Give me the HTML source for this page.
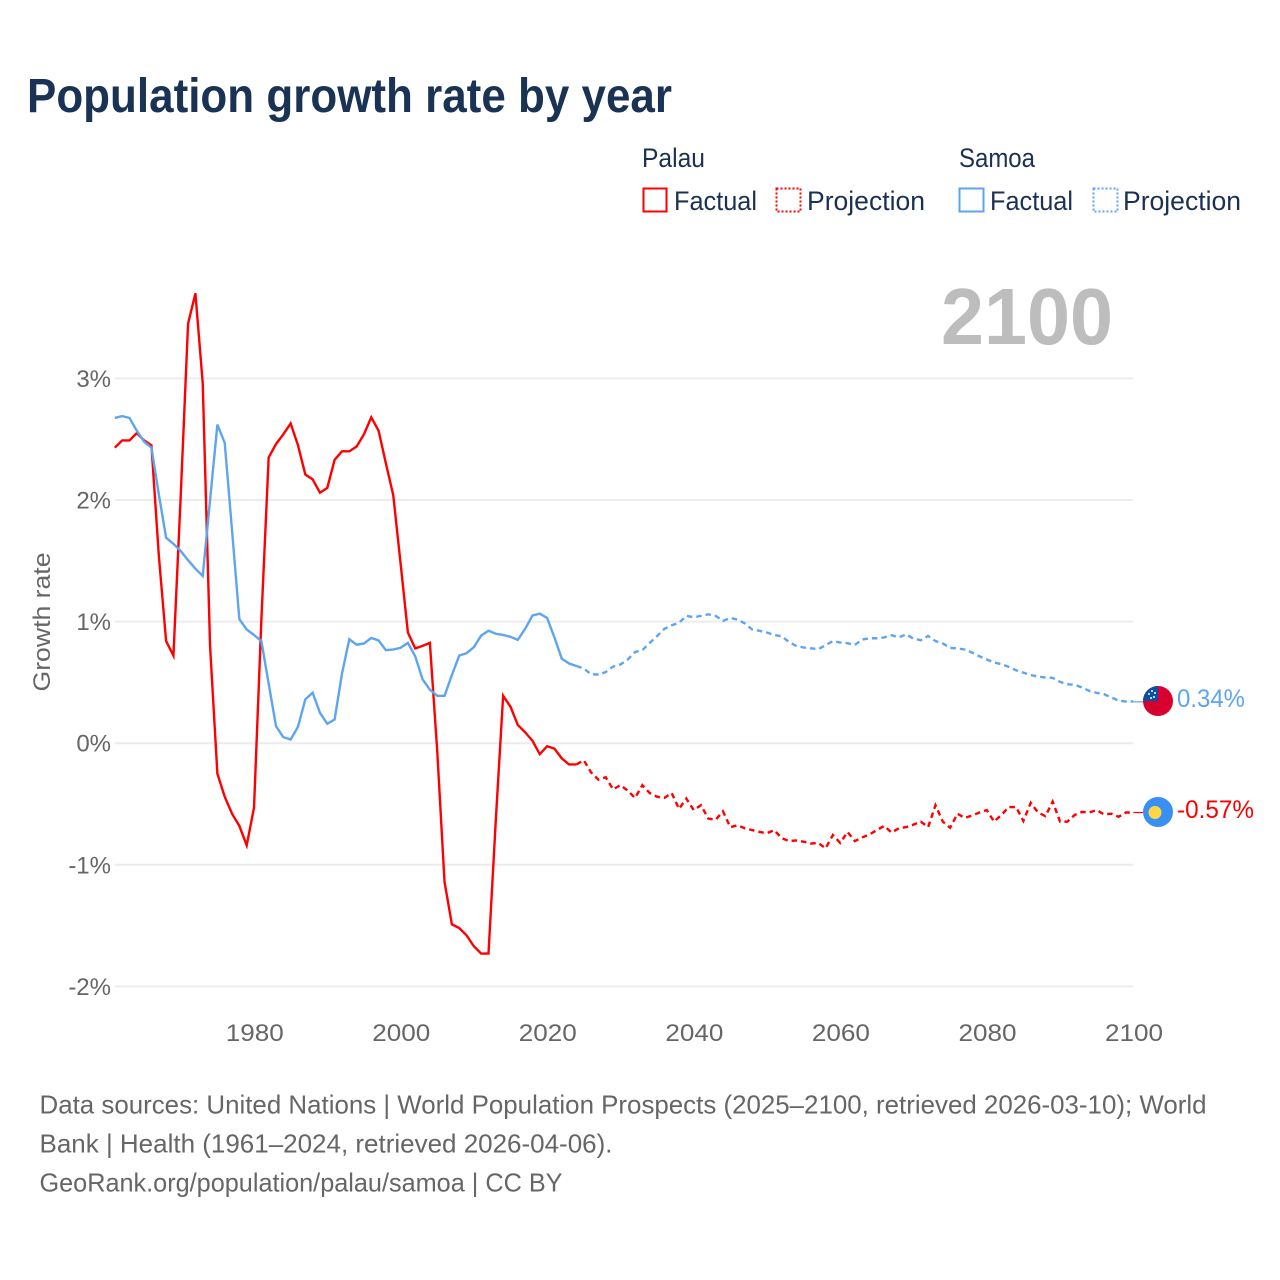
<!DOCTYPE html>
<html lang="en">
<head>
<meta charset="utf-8">
<title>Population growth rate by year</title>
<style>
html,body{margin:0;padding:0;background:#fff;width:1280px;height:1280px;overflow:hidden}
svg{display:block}
text{font-family:"Liberation Sans",sans-serif}
.leg{font-size:27px;fill:#1b3152}
.tick{font-size:24px;fill:#666}
.foot{font-size:26px;fill:#666}
</style>
</head>
<body>
<svg id="chart" xmlns="http://www.w3.org/2000/svg" width="1280" height="1280" viewBox="0 0 1280 1280">
  <text x="27" y="112" font-size="48" font-weight="700" fill="#1a3253" textLength="645" lengthAdjust="spacingAndGlyphs">Population growth rate by year</text>

  <g>
    <text class="leg" x="642" y="167" textLength="63" lengthAdjust="spacingAndGlyphs">Palau</text>
    <rect x="643.5" y="188.5" width="23" height="23" fill="none" stroke="#ff0000" stroke-width="2"/>
    <text class="leg" x="674" y="210" textLength="83" lengthAdjust="spacingAndGlyphs">Factual</text>
    <rect x="776.5" y="188.5" width="24" height="23" fill="none" stroke="#ff0000" stroke-width="2" stroke-dasharray="2 2"/>
    <text class="leg" x="807" y="210" textLength="118" lengthAdjust="spacingAndGlyphs">Projection</text>
    <text class="leg" x="959" y="167" textLength="76" lengthAdjust="spacingAndGlyphs">Samoa</text>
    <rect x="959.5" y="188.5" width="24" height="23" fill="none" stroke="#5ea5ef" stroke-width="2"/>
    <text class="leg" x="990" y="210" textLength="83" lengthAdjust="spacingAndGlyphs">Factual</text>
    <rect x="1093.5" y="188.5" width="24" height="23" fill="none" stroke="#5ea5ef" stroke-width="2" stroke-dasharray="2 2"/>
    <text class="leg" x="1123" y="210" textLength="118" lengthAdjust="spacingAndGlyphs">Projection</text>
  </g>

  <text x="941" y="344" font-size="80" font-weight="700" fill="#bdbdbd" textLength="172" lengthAdjust="spacingAndGlyphs">2100</text>

  <g id="grid"></g>
  <g id="yticks"></g>
  <g id="xticks"></g>
  <text class="tick" transform="translate(50 622) rotate(-90)" text-anchor="middle" textLength="139" lengthAdjust="spacingAndGlyphs">Growth rate</text>
  <g id="series"></g>

  <defs>
    <clipPath id="flag-clip-samoa"><circle cx="1158" cy="701" r="15"/></clipPath>
    <clipPath id="flag-clip-palau"><circle cx="1158" cy="812" r="15"/></clipPath>
  </defs>
  <g clip-path="url(#flag-clip-samoa)">
    <rect x="1143" y="686" width="30" height="30" fill="#d7002e"/>
    <rect x="1143" y="686" width="15" height="15" fill="#0b50a5"/>
    <circle cx="1152" cy="691" r="1" fill="#fff"/>
    <circle cx="1155" cy="693" r="1" fill="#fff"/>
    <circle cx="1149" cy="694" r="1" fill="#fff"/>
    <circle cx="1154" cy="697" r="1" fill="#fff"/>
    <circle cx="1151" cy="698" r="1" fill="#fff"/>
  </g>
  <g clip-path="url(#flag-clip-palau)">
    <rect x="1143" y="797" width="30" height="30" fill="#3a8ff2"/>
    <circle cx="1155" cy="812.5" r="6.5" fill="#ffd644"/>
  </g>
  <text x="1177" y="707" font-size="25" fill="#5ea5ef" textLength="68" lengthAdjust="spacingAndGlyphs">0.34%</text>
  <text x="1177" y="818" font-size="25" fill="#ff0000" textLength="77" lengthAdjust="spacingAndGlyphs">-0.57%</text>

  <g>
    <text class="foot" x="39.5" y="1113.5" textLength="1167" lengthAdjust="spacingAndGlyphs">Data sources: United Nations | World Population Prospects (2025–2100, retrieved 2026-03-10); World</text>
    <text class="foot" x="39.5" y="1152.5" textLength="573" lengthAdjust="spacingAndGlyphs">Bank | Health (1961–2024, retrieved 2026-04-06).</text>
    <text class="foot" x="39.5" y="1191.5" textLength="523" lengthAdjust="spacingAndGlyphs">GeoRank.org/population/palau/samoa | CC BY</text>
  </g>
</svg>
<script>
const firstYear = 1961;
const lastFactualYear = 2024;
const lastYear = 2100;
const yTickValues = [3, 2, 1, 0, -1, -2];
const xTickValues = [1980, 2000, 2020, 2040, 2060, 2080, 2100];
const palauFactual = [2.43,2.49,2.49,2.55,2.49,2.45,1.55,0.84,0.72,2.04,3.45,3.70,2.96,0.80,-0.25,-0.44,-0.58,-0.68,-0.84,-0.53,1.01,2.35,2.46,2.54,2.63,2.45,2.21,2.17,2.06,2.10,2.33,2.40,2.40,2.44,2.54,2.68,2.57,2.30,2.04,1.48,0.91,0.78,0.80,0.825,-0.06,-1.14,-1.49,-1.52,-1.58,-1.67,-1.73,-1.73,-0.63,0.39,0.30,0.15,0.09,0.02,-0.09,-0.025,-0.045,-0.125,-0.175,-0.175];
const palauProjection = [-0.175,-0.14,-0.24,-0.30,-0.28,-0.38,-0.345,-0.39,-0.45,-0.345,-0.41,-0.44,-0.45,-0.41,-0.54,-0.455,-0.55,-0.51,-0.62,-0.63,-0.56,-0.69,-0.675,-0.70,-0.715,-0.73,-0.74,-0.715,-0.78,-0.805,-0.80,-0.81,-0.825,-0.82,-0.865,-0.755,-0.82,-0.73,-0.805,-0.775,-0.75,-0.715,-0.68,-0.735,-0.70,-0.69,-0.67,-0.645,-0.69,-0.51,-0.645,-0.695,-0.58,-0.615,-0.595,-0.57,-0.55,-0.645,-0.59,-0.525,-0.525,-0.64,-0.49,-0.57,-0.60,-0.48,-0.645,-0.645,-0.59,-0.565,-0.57,-0.55,-0.585,-0.58,-0.605,-0.57,-0.57];
const samoaFactual = [2.675,2.69,2.675,2.57,2.48,2.43,2.05,1.69,1.64,1.58,1.505,1.435,1.375,2.0,2.62,2.47,1.75,1.02,0.935,0.89,0.84,0.49,0.14,0.05,0.03,0.135,0.36,0.415,0.25,0.16,0.195,0.57,0.855,0.81,0.82,0.865,0.845,0.765,0.77,0.785,0.825,0.715,0.525,0.44,0.39,0.39,0.56,0.72,0.74,0.79,0.885,0.925,0.90,0.89,0.875,0.85,0.94,1.05,1.065,1.03,0.87,0.695,0.655,0.635];
const samoaProjection = [0.635,0.615,0.567,0.565,0.585,0.63,0.647,0.688,0.75,0.765,0.825,0.88,0.94,0.97,0.99,1.047,1.036,1.047,1.06,1.047,1.006,1.03,1.017,0.984,0.935,0.924,0.91,0.89,0.88,0.833,0.80,0.787,0.78,0.773,0.806,0.84,0.828,0.822,0.808,0.853,0.863,0.863,0.87,0.888,0.87,0.896,0.86,0.847,0.882,0.84,0.82,0.784,0.78,0.77,0.745,0.715,0.688,0.664,0.65,0.628,0.60,0.58,0.56,0.548,0.54,0.537,0.504,0.485,0.48,0.458,0.43,0.414,0.403,0.376,0.35,0.343,0.343];
const palauEndValue = -0.57;
const samoaEndValue = 0.34;

const NS = 'http://www.w3.org/2000/svg';
function xScale(year) { return 114.8 + (year - firstYear) * (1133.3 - 114.8) / (lastYear - firstYear); }
function yScale(value) { return 743.2 - value * 121.6; }
function pathFrom(values, startYear) {
  return values.map(function (v, i) {
    return (i ? 'L' : 'M') + xScale(startYear + i).toFixed(2) + ' ' + yScale(v).toFixed(2);
  }).join('');
}
function make(tag, parent, attrs, txt) {
  const el = document.createElementNS(NS, tag);
  Object.keys(attrs).forEach(function (k) { el.setAttribute(k, attrs[k]); });
  if (txt !== undefined) el.textContent = txt;
  parent.appendChild(el);
  return el;
}
const grid = document.getElementById('grid');
const yt = document.getElementById('yticks');
const xt = document.getElementById('xticks');
const ser = document.getElementById('series');

yTickValues.forEach(function (v) {
  const line = make('line', grid, { x1: xScale(firstYear), x2: xScale(lastYear), y1: yScale(v), y2: yScale(v), stroke: '#ececec', 'stroke-width': 2 });
  
  
  const label = make('text', yt, { x: 111, y: yScale(v) + 8.5, 'text-anchor': 'end', class: 'tick' }, v + '%');
  
  
});
xTickValues.forEach(function (y) {
  const label = make('text', xt, { x: xScale(y) + 0.7, y: 1041, 'text-anchor': 'middle', class: 'tick', textLength: 58, lengthAdjust: 'spacingAndGlyphs' }, String(y));
  
  
});

function drawSeries(values, startYear, color, dashed, name) {
  const attrs = { d: pathFrom(values, startYear), fill: 'none', stroke: color, 'stroke-width': 2.4, 'stroke-linejoin': 'miter', 'stroke-miterlimit': 4 };
  if (dashed) attrs['stroke-dasharray'] = '5.5 4';
  const p = make('path', ser, attrs);
  
  
}
function drawConnector(value, color, name) {
  const l = make('line', ser, { x1: xScale(lastYear), x2: 1143, y1: yScale(value), y2: yScale(value), stroke: color, 'stroke-width': 1.2 });
  
  
}
drawSeries(palauFactual, firstYear, '#ff0000', false, 'palau-factual-line');
drawSeries(palauProjection, lastFactualYear, '#ff0000', true, 'palau-projection-line');
drawConnector(palauEndValue, '#ff0000', 'palau-end-connector');
drawSeries(samoaFactual, firstYear, '#5ea5ef', false, 'samoa-factual-line');
drawSeries(samoaProjection, lastFactualYear, '#5ea5ef', true, 'samoa-projection-line');
drawConnector(samoaEndValue, '#5ea5ef', 'samoa-end-connector');
</script>
</body>
</html>
